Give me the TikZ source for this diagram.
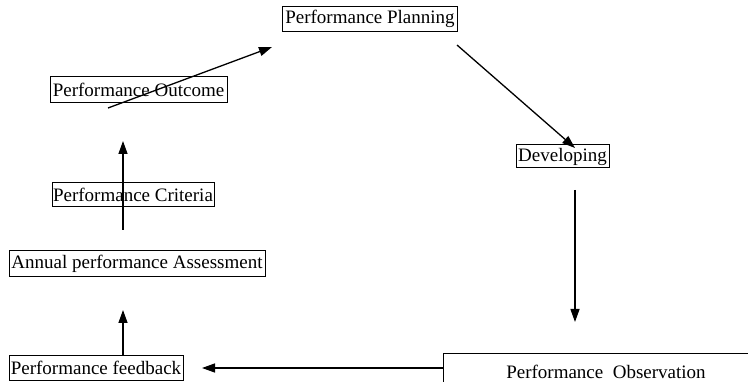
\documentclass[tikz,border=0pt]{standalone}
\usepackage{fontspec}
\setmainfont{Liberation Serif}
\usetikzlibrary{arrows.meta}
\begin{document}
\begin{tikzpicture}[x=1pt,y=-1pt,
  box/.style={draw,line width=1pt,inner sep=0pt,font=\fontsize{19}{19}\selectfont},
  arr/.style={line width=1.3pt,-{Triangle[length=13pt,width=9pt]}}]
\useasboundingbox (0,0) rectangle (748,382);
\node[box,minimum width=175pt,minimum height=25pt] (plan) at (370,19) {Performance Planning};
\node[box,minimum width=93pt,minimum height=23pt] (dev) at (562.5,156.5) {Developing};
\node[box,minimum width=177pt,minimum height=26pt] (out) at (138.5,90) {Performance Outcome};
\node[box,minimum width=162pt,minimum height=24pt] (crit) at (133,195) {Performance Criteria};
\node[box,minimum width=256pt,minimum height=26pt] (ass) at (137,264) {Annual performance Assessment};
\node[box,minimum width=174pt,minimum height=25pt] (fb) at (96,368) {Performance feedback};
\begin{scope}
\clip (0,0) rectangle (748,382);
\node[draw,line width=1pt,minimum width=320pt,minimum height=60pt,anchor=north west] (obs) at (443,353) {};
\end{scope}
\node[anchor=base,font=\fontsize{19}{19}\selectfont] (obstext) at (606,379) {Performance\ \ Observation};
\coordinate (a1) at (108,108);
\coordinate (a2) at (272,47);
\coordinate (b1) at (457,45);
\coordinate (b2) at (575,148);
\coordinate (c1) at (575,190);
\coordinate (c2) at (575,322);
\coordinate (d1) at (443,368);
\coordinate (d2) at (202,368);
\coordinate (e1) at (123,355);
\coordinate (e2) at (123,310);
\coordinate (f1) at (123,230);
\coordinate (f2) at (123,141);
\draw[arr] (a1) -- (a2);
\draw[arr] (b1) -- (b2);
\draw[arr] (c1) -- (c2);
\draw[arr] (d1) -- (d2);
\draw[arr] (e1) -- (e2);
\draw[arr] (f1) -- (f2);
\end{tikzpicture}
\end{document}
